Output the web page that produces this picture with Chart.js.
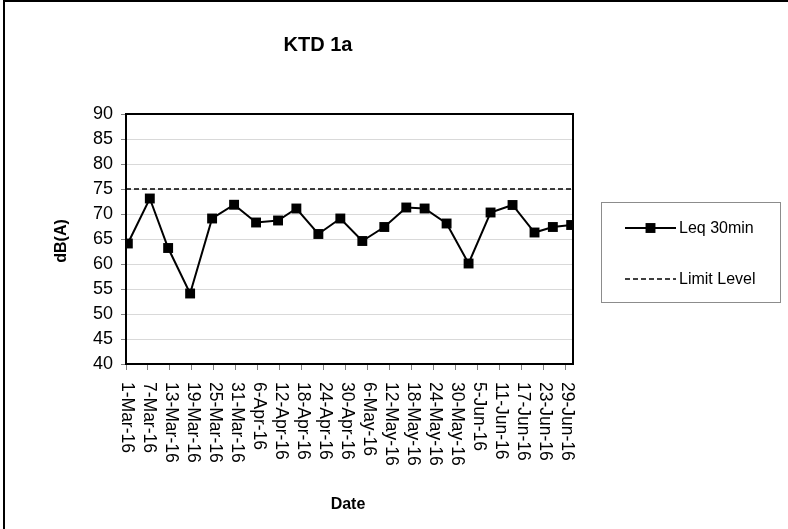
<!DOCTYPE html>
<html>
<head>
<meta charset="utf-8">
<script src="https://cdn.jsdelivr.net/npm/chart.js@4/dist/chart.umd.min.js"></script>
<style>
  html, body { margin: 0; padding: 0; background: #ffffff; }
  #wrap { width: 788px; height: 529px; position: relative; }
</style>
</head>
<body>
<div id="wrap"><canvas id="c" width="788" height="529"></canvas></div>
<script>
// ---- data ----
const chartTitle = 'KTD 1a';
const yTitle = 'dB(A)';
const xTitle = 'Date';
const seriesName = 'Leq 30min';
const limitName = 'Limit Level';
const dates = ['2016-03-01','2016-03-07','2016-03-12','2016-03-18','2016-03-24','2016-03-30',
               '2016-04-05','2016-04-11','2016-04-16','2016-04-22','2016-04-28',
               '2016-05-04','2016-05-10','2016-05-16','2016-05-21','2016-05-27',
               '2016-06-02','2016-06-08','2016-06-14','2016-06-20','2016-06-25','2016-06-30'];
const leq = [64.1, 73.1, 63.2, 54.1, 69.1, 71.85, 68.3, 68.7, 71.1, 66.0, 69.1,
             64.6, 67.4, 71.3, 71.1, 68.1, 60.1, 70.3, 71.8, 66.3, 67.4, 67.8];
const limitLevel = 75;
const tickLabels = ['1-Mar-16','7-Mar-16','13-Mar-16','19-Mar-16','25-Mar-16','31-Mar-16',
                    '6-Apr-16','12-Apr-16','18-Apr-16','24-Apr-16','30-Apr-16',
                    '6-May-16','12-May-16','18-May-16','24-May-16','30-May-16',
                    '5-Jun-16','11-Jun-16','17-Jun-16','23-Jun-16','29-Jun-16'];
const yMin = 40, yMax = 90, yStep = 5;

// ---- helpers ----
const MONTHS = {Jan:0,Feb:1,Mar:2,Apr:3,May:4,Jun:5,Jul:6,Aug:7,Sep:8,Oct:9,Nov:10,Dec:11};
const base = Date.UTC(2016, 2, 1);
function dayOfISO(s) { const p = s.split('-').map(Number); return (Date.UTC(p[0], p[1]-1, p[2]) - base) / 864e5; }
function dayOfLabel(s) { const p = s.split('-'); return (Date.UTC(2000 + Number(p[2]), MONTHS[p[1]], Number(p[0])) - base) / 864e5; }
const dayValues = dates.map(dayOfISO);
const xMin = dayValues[0];
const xMax = dayValues[dayValues.length - 1] + 1;   // day slots (date axis)
const tickDays = tickLabels.map(dayOfLabel);
const labelByDay = {}; tickDays.forEach((d, i) => labelByDay[d] = tickLabels[i]);

const FONT = '"Liberation Sans", Arial, sans-serif';

const decor = {
  id: 'decor',
  beforeDatasetsDraw(chart) {
    const {ctx, chartArea: a} = chart;
    ctx.save();
    ctx.strokeStyle = '#000';
    ctx.lineWidth = 2;
    ctx.strokeRect(a.left, a.top, a.right - a.left, a.bottom - a.top);
    ctx.restore();
  },
  afterDraw(chart) {
    const {ctx, chartArea: a} = chart;
    const xs = chart.scales.x;
    ctx.save();
    // outer frame
    ctx.strokeStyle = '#000';
    ctx.lineWidth = 2;
    ctx.beginPath();
    ctx.moveTo(4, 529); ctx.lineTo(4, 1); ctx.lineTo(788, 1);
    ctx.stroke();
    // title
    ctx.fillStyle = '#000';
    ctx.font = 'bold 20px ' + FONT;
    ctx.textAlign = 'center'; ctx.textBaseline = 'middle';
    ctx.fillText(chartTitle, 318, 45);
    // axis titles
    ctx.font = 'bold 16px ' + FONT;
    ctx.fillText(xTitle, 348, 505);
    ctx.save();
    ctx.translate(62, 241);
    ctx.rotate(-Math.PI / 2);
    ctx.fillText(yTitle, 0, 0);
    ctx.restore();
    // x tick labels (rotated clockwise, reading downward)
    ctx.font = '17.5px ' + FONT;
    ctx.textAlign = 'left'; ctx.textBaseline = 'middle';
    xs.ticks.forEach(t => {
      const px = xs.getPixelForValue(t.value);
      ctx.save();
      ctx.translate(px + 1, a.bottom + 18);
      ctx.rotate(Math.PI / 2);
      ctx.fillText(labelByDay[t.value] || '', 0, 0);
      ctx.restore();
    });
    // legend
    const ds = chart.data.datasets;
    ctx.strokeStyle = '#8c8c8c'; ctx.lineWidth = 1;
    ctx.strokeRect(601.5, 202.5, 179, 100);
    const items = [{y: 228, d: ds[0]}, {y: 279, d: ds[1]}];
    items.forEach(it => {
      ctx.strokeStyle = it.d.borderColor;
      ctx.lineWidth = it.d.borderWidth;
      ctx.setLineDash(it.d.borderDash || []);
      ctx.beginPath(); ctx.moveTo(625, it.y); ctx.lineTo(676, it.y); ctx.stroke();
      ctx.setLineDash([]);
      if (it.d.pointRadius > 0) {
        const s = it.d.pointRadius * Math.SQRT1_2;
        ctx.fillStyle = it.d.pointBackgroundColor;
        ctx.fillRect(650.5 - s, it.y - s, 2 * s, 2 * s);
      }
      ctx.fillStyle = '#000';
      ctx.font = '16px ' + FONT;
      ctx.textAlign = 'left'; ctx.textBaseline = 'middle';
      ctx.fillText(it.d.label, 679, it.y + 1);
    });
    ctx.restore();
  }
};

new Chart(document.getElementById('c'), {
  type: 'line',
  data: {
    datasets: [
      {
        label: seriesName,
        data: dayValues.map((d, i) => ({x: d + 0.5, y: leq[i]})),
        borderColor: '#000',
        borderWidth: 2,
        pointStyle: 'rect',
        pointRadius: 7,
        pointBorderWidth: 0,
        pointBackgroundColor: '#000',
        tension: 0,
        order: 1
      },
      {
        label: limitName,
        data: [{x: xMin, y: limitLevel}, {x: xMax, y: limitLevel}],
        borderColor: '#000',
        borderWidth: 1.5,
        borderDash: [5, 3],
        pointRadius: 0,
        order: 2
      }
    ]
  },
  options: {
    responsive: false,
    animation: false,
    events: [],
    layout: { padding: { left: 30, right: 215, top: 114, bottom: 0 } },
    plugins: { legend: { display: false }, title: { display: false }, tooltip: { enabled: false } },
    scales: {
      x: {
        type: 'linear',
        min: xMin, max: xMax,
        afterBuildTicks: s => { s.ticks = tickDays.map(v => ({value: v})); },
        afterFit: s => { s.height = 165; },
        ticks: { display: false },
        grid: { drawOnChartArea: false, drawTicks: true, tickLength: 6, tickColor: '#808080', tickWidth: 1 },
        border: { display: false }
      },
      y: {
        min: yMin, max: yMax,
        afterFit: s => { s.width = 96; },
        ticks: { stepSize: yStep, color: '#000', font: { family: FONT, size: 18 }, padding: 8 },
        grid: { color: '#d9d9d9', lineWidth: 1, tickLength: 5, tickColor: '#808080' },
        border: { display: false }
      }
    }
  },
  plugins: [decor]
});
</script>
</body>
</html>
